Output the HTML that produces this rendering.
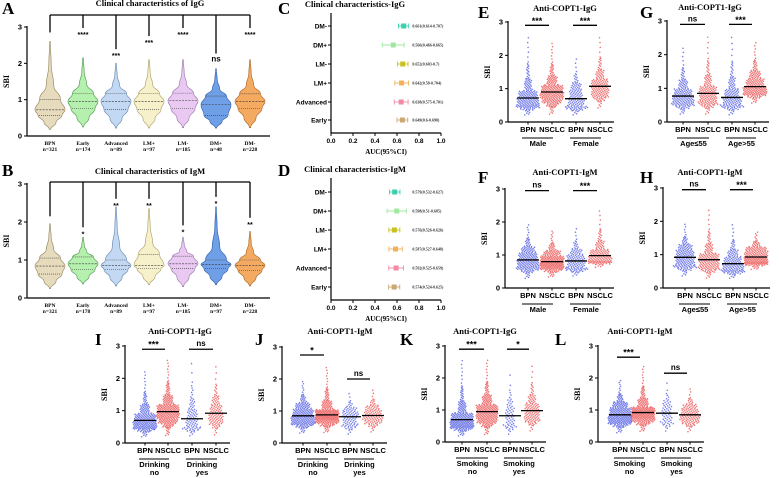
<!DOCTYPE html>
<html><head><meta charset="utf-8">
<style>
html,body{margin:0;padding:0;background:#fff;}
svg{display:block;}
.ser{font-family:"Liberation Serif",serif;font-weight:bold;}
.san{font-family:"Liberation Sans",sans-serif;font-weight:bold;}
</style></head>
<body>
<svg id="fig" width="779" height="478" viewBox="0 0 779 478" xmlns="http://www.w3.org/2000/svg"></svg>
<script>
// ---------- DATA ----------
const violinCats = ["BPN","Early","Advanced","LM+","LM-","DM+","DM-"];
const violinNA = ["n=321","n=174","n=89","n=97","n=185","n=48","n=228"];
const violinNB = ["n=321","n=178","n=89","n=97","n=185","n=97","n=228"];
const violinColors = ["#e6dbbd","#b6f0ae","#c2d8f3","#f7f1cb","#e9c9f2","#6f9fe6","#f5aa62"];
const violinStroke = ["#9c8e6a","#5aa05a","#7090b8","#b0a870","#a080b0","#3a68b0","#b07030"];
// min, q1, median, q3, max
const igGMin = [0.18,0.25,0.22,0.22,0.23,0.22,0.23];
const igGQ1  = [0.57,0.75,0.73,0.73,0.75,0.57,0.76];
const igGMed = [0.72,0.95,0.95,0.95,0.97,0.86,0.95];
const igGQ3  = [1.00,1.17,1.17,1.17,1.18,1.10,1.16];
const igGMax = [2.60,2.15,2.00,2.10,2.10,1.85,2.10];
const igGSig = ["","****","***","***","****","ns","****"];
const igGSigV = [2.85,2.75,2.17,2.53,2.75,2.05,2.75];
const igMMin = [0.25,0.37,0.32,0.35,0.30,0.35,0.32];
const igMQ1  = [0.63,0.75,0.75,0.77,0.78,0.77,0.73];
const igMMed = [0.84,0.90,0.85,0.86,0.90,0.88,0.86];
const igMQ3  = [1.05,1.08,1.00,1.15,1.10,1.00,1.00];
const igMMax = [1.95,1.60,2.40,2.35,1.60,2.40,1.75];
const igMSig = ["","*","**","**","*","*","**"];
const igMSigV = [2.15,1.65,2.40,2.40,1.70,2.45,1.90];

const forestCats = ["DM-","DM+","LM-","LM+","Advanced","Early"];
const forestColors = ["#3ccfae","#9fe89f","#c9c21e","#f1b05c","#f28aa6","#c9a872"];
const aucG = [0.661,0.566,0.652,0.642,0.638,0.649];
const loG  = [0.614,0.466,0.603,0.580,0.575,0.600];
const hiG  = [0.707,0.665,0.700,0.704,0.701,0.698];
const aucM = [0.579,0.598,0.576,0.587,0.592,0.574];
const loM  = [0.532,0.510,0.526,0.527,0.525,0.524];
const hiM  = [0.627,0.685,0.626,0.648,0.659,0.625];
const forestTicks = ["0.0","0.2","0.4","0.6","0.8","1.0"];

const stripCats = ["BPN","NSCLC","BPN","NSCLC"];
const stripMed = {E:[0.72,0.90,0.70,1.07],F:[0.85,0.80,0.82,0.98],G:[0.77,0.85,0.73,1.05],H:[0.92,0.85,0.73,0.93],
  I:[0.70,0.97,0.75,0.92],J:[0.85,0.88,0.82,0.86],K:[0.70,0.95,0.82,0.98],L:[0.85,0.92,0.90,0.85]};
const stripQ1 = {E:[0.52,0.70,0.48,0.85],F:[0.65,0.65,0.62,0.82],G:[0.58,0.62,0.52,0.88],H:[0.70,0.65,0.55,0.78],
  I:[0.52,0.75,0.50,0.70],J:[0.66,0.72,0.60,0.70],K:[0.52,0.72,0.55,0.75],L:[0.66,0.74,0.65,0.68]};
const stripQ3 = {E:[0.95,1.12,0.98,1.30],F:[1.08,0.98,1.02,1.18],G:[1.00,1.08,1.00,1.30],H:[1.15,1.05,0.95,1.12],
  I:[0.92,1.20,1.05,1.20],J:[1.08,1.05,1.00,1.05],K:[0.92,1.18,1.10,1.22],L:[1.08,1.10,1.15,1.05]};
const stripMin = {E:[0.20,0.22,0.20,0.40],F:[0.28,0.32,0.35,0.62],G:[0.22,0.22,0.20,0.55],H:[0.35,0.28,0.28,0.55],
  I:[0.18,0.22,0.20,0.22],J:[0.30,0.32,0.25,0.32],K:[0.18,0.22,0.20,0.32],L:[0.28,0.32,0.30,0.30]};
const stripMax = {E:[2.60,2.40,1.95,2.60],F:[1.95,1.75,1.85,2.40],G:[2.25,2.60,2.60,2.40],H:[1.95,2.40,1.95,1.70],
  I:[2.25,2.60,2.60,2.45],J:[1.95,2.40,1.60,1.70],K:[2.60,2.60,2.25,2.45],L:[1.95,2.40,1.95,1.70]};
const stripN = {E:[190,230,130,150],F:[190,230,130,150],G:[170,160,150,200],H:[170,160,150,200],
  I:[220,260,90,110],J:[220,260,90,110],K:[240,250,60,120],L:[240,250,60,120]};
const stripSig = {E:["***","***"],F:["ns","***"],G:["ns","***"],H:["ns","***"],I:["***","ns"],J:["*","ns"],K:["***","*"],L:["***","ns"]};
const stripSigV = {E:[2.9,2.9],F:[2.95,2.95],G:[2.9,2.9],H:[2.95,2.95],I:[2.9,2.9],J:[2.75,2.0],K:[2.9,2.9],L:[2.65,2.15]};
const stripGroups = {E:[["Male"],["Female"]],F:[["Male"],["Female"]],G:[["Age≤55"],["Age>55"]],H:[["Age≤55"],["Age>55"]],
  I:[["Drinking","no"],["Drinking","yes"]],J:[["Drinking","no"],["Drinking","yes"]],K:[["Smoking","no"],["Smoking","yes"]],L:[["Smoking","no"],["Smoking","yes"]]};
const yTicks = ["0","1","2","3"];

// ---------- HELPERS ----------
const svg = document.getElementById('fig');
const NS = "http://www.w3.org/2000/svg";
function mk(tag, attrs, parent){const e=document.createElementNS(NS,tag);for(const k in attrs)e.setAttribute(k,attrs[k]);(parent||svg).appendChild(e);return e;}
function txt(s, attrs, parent){const e=mk('text',attrs,parent);e.textContent=s;return e;}
function grp(name){const g=mk('g',{});return g;}

function yAxis(g, ax, y0, y3, xEnd, label){
  const ys=v=>y0-v*(y0-y3)/3;
  mk('line',{x1:ax,y1:y3-1,x2:ax,y2:y0,stroke:'#000','stroke-width':1.2},g);
  mk('line',{x1:ax,y1:y0,x2:xEnd,y2:y0,stroke:'#000','stroke-width':1.2},g);
  yTicks.forEach((t,i)=>{const y=ys(+t);mk('line',{x1:ax-3,y1:y,x2:ax,y2:y,stroke:'#000','stroke-width':1},g);
    txt(t,{x:ax-5,y:y+2.5,'font-size':7.5,'text-anchor':'end',class:'san'},g);});
  const t=txt(label,{x:ax-18,y:(y0+y3)/2,'font-size':8,'text-anchor':'middle',class:'ser',transform:`rotate(-90 ${ax-18} ${(y0+y3)/2})`},g);
  
  return ys;
}
function letter(s,x,y){const t=txt(s,{x:x,y:y,'font-size':17,class:'ser'});}
function title(s,x,y,name){const t=txt(s,{x:x,y:y,'font-size':8.5,'text-anchor':'middle',class:'ser'});}

function quant(p,mn,q1,md,q3,mx){
  const P=[0,0.03,0.1,0.25,0.5,0.75,0.9,0.97,1];
  const V=[mn,q1-(q1-mn)*0.55,q1-(q1-mn)*0.3,q1,md,q3,q3+(mx-q3)*0.22,q3+(mx-q3)*0.5,mx];
  for(let i=0;i<P.length-1;i++){if(p<=P[i+1]){const f=(p-P[i])/(P[i+1]-P[i]);return V[i]+f*(V[i+1]-V[i]);}}return mx;
}

// ---------- VIOLINS ----------
function violinPanel(L, ly, tl, ty, ax, y0, y3, bracketY, cols, mn,q1,md,q3,mx,sig,sigV,nLabs,name){
  const g=grp(name);
  letter(L,2,ly);
  title(tl,150,ty,'chart-title');
  const ys=yAxis(g,ax,y0,y3,270,'SBI');
  mk('line',{x1:cols[0],y1:bracketY,x2:cols[6],y2:bracketY,stroke:'#000','stroke-width':1.3},g);
  violinCats.forEach((c,i)=>{
    const x=cols[i];
    const vg=grp('violin-'+c);
    svg.removeChild(vg);g.appendChild(vg);
    const sy=ys(sigV[i]);
    mk('line',{x1:x,y1:bracketY,x2:x,y2:i==0?sy:sy-8,stroke:'#000','stroke-width':1.3},vg);
    if(sig[i])txt(sig[i],{x:x,y:sy-(sig[i]=='ns'?0:-1),'font-size':sig[i]=='ns'?8:7,'text-anchor':'middle',class:'san'},vg);
    const W=15;
    const prof=[[mn[i],0.04],[q1[i]-(q1[i]-mn[i])*0.5,0.4],[q1[i],0.8],[md[i],1],[q3[i],0.7],[q3[i]+(mx[i]-q3[i])*0.25,0.25],[q3[i]+(mx[i]-q3[i])*0.6,0.08],[mx[i],0.02]];
    let right=prof.map(p=>[x+p[1]*W,ys(p[0])]);
    let left=prof.slice().reverse().map(p=>[x-p[1]*W,ys(p[0])]);
    const pts=right.concat(left);
    let d='M'+pts[0][0]+','+pts[0][1];
    for(let k=1;k<pts.length;k++){const a=pts[k-1],b=pts[k];const my=(a[1]+b[1])/2;d+=` C${a[0]},${my} ${b[0]},${my} ${b[0]},${b[1]}`;}
    d+='Z';
    mk('path',{d:d,fill:violinColors[i],stroke:violinStroke[i],'stroke-width':0.7},vg);
    const wAt=v=>{for(let k=0;k<prof.length-1;k++){if(v<=prof[k+1][0]){const f=(v-prof[k][0])/(prof[k+1][0]-prof[k][0]);return (prof[k][1]+f*(prof[k+1][1]-prof[k][1]))*W;}}return 0;};
    [[md[i],'2,1.2'],[q1[i],'1,1'],[q3[i],'1,1']].forEach(q=>{const w=wAt(q[0])*0.92;
      mk('line',{x1:x-w,y1:ys(q[0]),x2:x+w,y2:ys(q[0]),stroke:'#333','stroke-width':0.6,'stroke-dasharray':q[1]},vg);});
    txt(c,{x:x,y:y0+9,'font-size':5.5,'text-anchor':'middle',class:'ser'},vg);
    txt(nLabs[i],{x:x,y:y0+15,'font-size':5.5,'text-anchor':'middle',class:'ser'},vg);
  });
}
const colsV=[50,83,116,149,183,216,250];
violinPanel('A',14,'Clinical characteristics of IgG',6,27,136,27,15,colsV,igGMin,igGQ1,igGMed,igGQ3,igGMax,igGSig,igGSigV,violinNA,'violin-chart-igg');
violinPanel('B',176,'Clinical characteristics of IgM',174,27,298,184,182,colsV,igMMin,igMQ1,igMMed,igMQ3,igMMax,igMSig,igMSigV,violinNB,'violin-chart-igm');

// ---------- FOREST ----------
function forest(L, ly, tl, ty, ax, top, bottom, rowY, auc, lo, hi, name){
  const g=grp(name);
  letter(L,278,ly);
  title(tl,355,ty,'chart-title');
  const xs=v=>ax+v*110;
  mk('line',{x1:ax,y1:top,x2:ax,y2:bottom,stroke:'#000','stroke-width':1.2},g);
  mk('line',{x1:ax,y1:bottom,x2:xs(1),y2:bottom,stroke:'#000','stroke-width':1.2},g);
  forestTicks.forEach(t=>{const x=xs(+t);mk('line',{x1:x,y1:bottom,x2:x,y2:bottom+3,stroke:'#000'},g);
    txt(t,{x:x,y:bottom+10,'font-size':6.5,'text-anchor':'middle',class:'san'},g);});
  const at=txt('AUC(95%CI)',{x:xs(0.5),y:bottom+21,'font-size':7,'text-anchor':'middle',class:'ser'},g);
  
  forestCats.forEach((c,i)=>{
    const y=rowY[i];const rg=grp('forest-row-'+c);svg.removeChild(rg);g.appendChild(rg);
    mk('line',{x1:ax-3,y1:y,x2:ax,y2:y,stroke:'#000'},rg);
    txt(c,{x:ax-4,y:y+2.3,'font-size':6.5,'text-anchor':'end',class:'san'},rg);
    const col=forestColors[i];
    mk('line',{x1:xs(lo[i]),y1:y,x2:xs(hi[i]),y2:y,stroke:col,'stroke-width':0.9},rg);
    [lo[i],hi[i]].forEach(v=>mk('line',{x1:xs(v),y1:y-2.5,x2:xs(v),y2:y+2.5,stroke:col,'stroke-width':0.9},rg));
    mk('rect',{x:xs(auc[i])-2.5,y:y-2.5,width:5,height:5,fill:col},rg);
    txt(`${auc[i].toFixed(3)}(${lo[i]}-${hi[i]})`,{x:xs(0.74),y:y+1.5,'font-size':4,class:'ser',fill:'#333'},rg);
  });
}
forest('C',14,'Clinical characteristics-IgG',7,331,13,133,[26,45,64,83,102,120],aucG,loG,hiG,'forest-plot-igg');
forest('D',176,'Clinical characteristics-IgM',172,331,178,300,[192,211,230,249,268,287],aucM,loM,hiM,'forest-plot-igm');

// ---------- STRIP PLOTS ----------
function strip(key, tl, tx, ty, lx, ly, ax, y0, y3, cols){
  const g=grp('strip-chart-'+key);
  letter(key,lx,ly);
  title(tl,tx,ty,'chart-title');
  const ys=yAxis(g,ax,y0,y3,cols[3]+14,'SBI');
  for(let j=0;j<4;j++){
    const cg=grp('dots-'+stripCats[j].toLowerCase()+'-'+(j<2?1:2));svg.removeChild(cg);g.appendChild(cg);
    const color=j%2==0?'#3a48e0':'#e83a3a';
    const n=stripN[key][j],mn=stripMin[key][j],q1=stripQ1[key][j],md=stripMed[key][j],q3=stripQ3[key][j],mx=stripMax[key][j];
    let path='';
    for(let i=0;i<n;i++){
      const p=(i+0.5)/n;
      const v=quant(p,mn,q1,md,q3,mx);
      const dv=(quant(Math.min(1,p+0.02),mn,q1,md,q3,mx)-quant(Math.max(0,p-0.02),mn,q1,md,q3,mx))/0.04;
      const spread=Math.min(12,Math.max(0.5,9/dv*Math.sqrt(n/200)));
      const off=(((i*0.6180339)%1)-0.5)*2*spread;
      const x=cols[j]+off,y=ys(v);
      path+=`M${(x-0.8).toFixed(2)},${y.toFixed(2)}a0.8,0.8 0 1,0 1.6,0a0.8,0.8 0 1,0 -1.6,0`;
    }
    mk('path',{d:path,fill:color,'fill-opacity':0.7},cg);
    mk('line',{x1:cols[j]-11,y1:ys(md),x2:cols[j]+11,y2:ys(md),stroke:'#000','stroke-width':1.3},cg);
    mk('line',{x1:cols[j],y1:y0,x2:cols[j],y2:y0+2.5,stroke:'#000'},g);
    txt(stripCats[j],{x:cols[j],y:y0+10,'font-size':7.5,'text-anchor':'middle',class:'san'},g);
  }
  for(let k=0;k<2;k++){
    const a=cols[2*k],b=cols[2*k+1];
    const sy=ys(stripSigV[key][k]);
    const sg=grp('significance-'+(k+1));svg.removeChild(sg);g.appendChild(sg);
    mk('line',{x1:a-3,y1:sy,x2:b-3,y2:sy,stroke:'#000','stroke-width':1.3},sg);
    const s=stripSig[key][k];
    txt(s,{x:(a+b)/2-3,y:sy-(s=='ns'?3:1.5),'font-size':s=='ns'?8:9,'text-anchor':'middle',class:'san'},sg);
    mk('line',{x1:a-6,y1:y0+16,x2:b+1,y2:y0+16,stroke:'#000','stroke-width':1.1},g);
    const gl=stripGroups[key][k];
    gl.forEach((l,li)=>txt(l,{x:(a+b)/2-2,y:y0+24+li*8,'font-size':7.5,'text-anchor':'middle',class:'san'},g));
  }
}
strip('E','Anti-COPT1-IgG',565,11,478,18,508,122,22,[528,552,576,600]);
strip('F','Anti-COPT1-IgM',565,175,478,183,505,288,189,[528,552,576,600]);
strip('G','Anti-COPT1-IgG',710,10,640,18,667,122,21,[683,708,732,755]);
strip('H','Anti-COPT1-IgM',710,175,640,183,663,288,188,[685,709,733,756]);
strip('I','Anti-COPT1-IgG',180,334,95,345,125,443,346,[145,168,192,216]);
strip('J','Anti-COPT1-IgM',340,334,255,345,282,443,347,[303,327,350,373]);
strip('K','Anti-COPT1-IgG',485,334,400,345,445,442,346,[462,487,510,532]);
strip('L','Anti-COPT1-IgM',640,334,555,345,598,442,346,[620,643,667,690]);
</script>
</body></html>
